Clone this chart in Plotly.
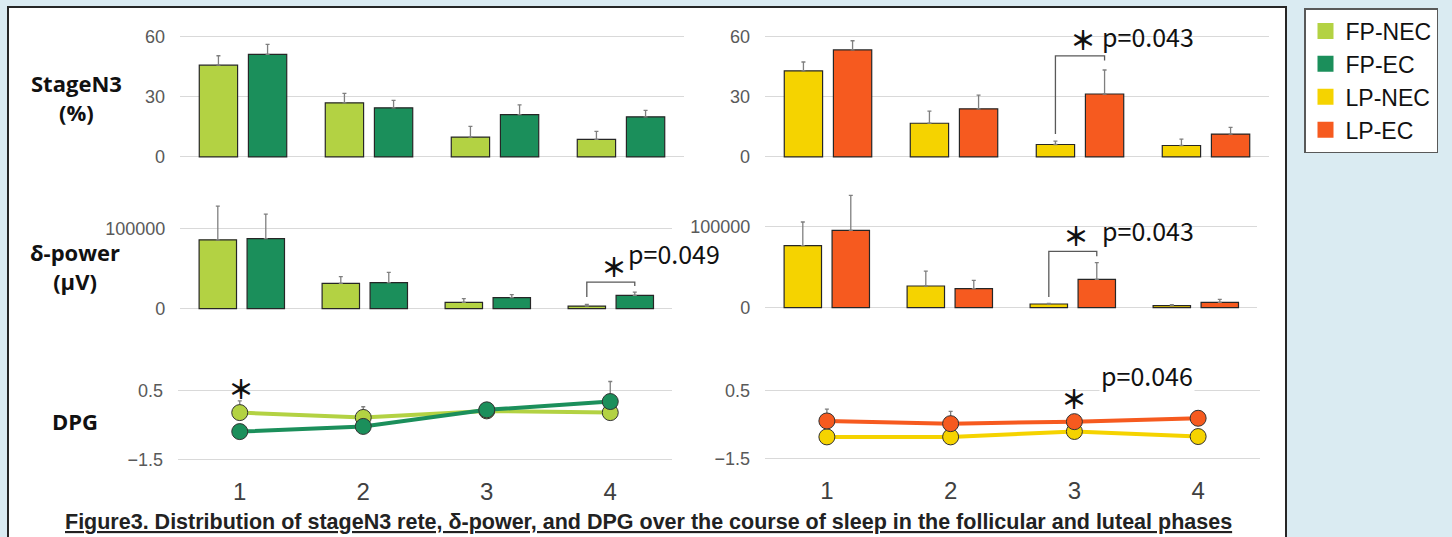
import plotly.graph_objects as go

# ---------------- data ----------------
categories = ["1", "2", "3", "4"]
series_names = ["FP-NEC", "FP-EC", "LP-NEC", "LP-EC"]

# Stage N3 (%)
n3_fp_nec = [45.8, 27.0, 9.9, 8.7]
n3_fp_nec_sd = [4.7, 4.7, 5.3, 4.0]
n3_fp_ec = [51.2, 24.5, 21.1, 20.0]
n3_fp_ec_sd = [5.0, 3.7, 4.9, 3.2]
n3_lp_nec = [43.0, 16.8, 6.2, 5.7]
n3_lp_nec_sd = [4.4, 6.1, 1.7, 3.2]
n3_lp_ec = [53.4, 24.0, 31.4, 11.4]
n3_lp_ec_sd = [4.6, 6.8, 12.0, 3.3]

# delta power (uV)
dp_fp_nec = [86000, 31700, 7900, 3300]
dp_fp_nec_sd = [42000, 8300, 4600, 2000]
dp_fp_ec = [87500, 32500, 13700, 16600]
dp_fp_ec_sd = [30500, 12900, 3800, 4200]
dp_lp_nec = [76300, 26600, 4500, 2500]
dp_lp_nec_sd = [29000, 18400, 800, 1200]
dp_lp_ec = [95100, 23300, 34800, 6600]
dp_lp_ec_sd = [43000, 10300, 20500, 3600]

# DPG
dpg_fp_nec = [-0.13, -0.27, -0.08, -0.13]
dpg_fp_nec_sd = [0.34, 0.31, 0.10, 0.10]
dpg_fp_ec = [-0.68, -0.53, -0.05, 0.19]
dpg_fp_ec_sd = [0.10, 0.10, 0.10, 0.58]
dpg_lp_nec = [-0.86, -0.86, -0.70, -0.85]
dpg_lp_nec_sd = [0.10, 0.10, 0.10, 0.10]
dpg_lp_ec = [-0.39, -0.47, -0.41, -0.31]
dpg_lp_ec_sd = [0.35, 0.36, 0.10, 0.10]

n3_ticks = [0, 30, 60]
dp_ticks = [0, 100000]
dpg_ticks = [-1.5, 0.5]

# ---------------- style ----------------
W, H = 1452, 537
SY = 0.982  # observed vertical rendering factor
COL = {"FP-NEC": "#b3d243", "FP-EC": "#1b8f5b", "LP-NEC": "#f5d300", "LP-EC": "#f65a1f"}
ERR = "#7f7f7f"
GRID = "#d9d9d9"
TXT = "#595959"
xpos = list(range(1, len(categories) + 1))


def fx(px):
    return px / W


def fy(py):
    return 1 - py / (H * SY)


fig = go.Figure()


def err(sd):
    return dict(type="data", array=sd, arrayminus=[0] * len(sd), symmetric=False,
                color=ERR, thickness=1.3, width=2)


def add_bar(name, vals, sd, ax):
    fig.add_trace(go.Bar(x=xpos, y=vals, name=name, marker=dict(color=COL[name], line=dict(color="#262626", width=1.2)),
                         error_y=err(sd), showlegend=False, xaxis="x" + ax, yaxis="y" + ax))


def add_line(name, vals, sd, ax):
    fig.add_trace(go.Scatter(x=xpos, y=vals, name=name, mode="lines+markers",
                             line=dict(color=COL[name], width=4),
                             marker=dict(color=COL[name], size=16, line=dict(color="#333333", width=1)),
                             error_y=err(sd), showlegend=False, xaxis="x" + ax, yaxis="y" + ax))


add_bar("FP-NEC", n3_fp_nec, n3_fp_nec_sd, "")
add_bar("FP-EC", n3_fp_ec, n3_fp_ec_sd, "")
add_bar("LP-NEC", n3_lp_nec, n3_lp_nec_sd, "2")
add_bar("LP-EC", n3_lp_ec, n3_lp_ec_sd, "2")
add_bar("FP-NEC", dp_fp_nec, dp_fp_nec_sd, "3")
add_bar("FP-EC", dp_fp_ec, dp_fp_ec_sd, "3")
add_bar("LP-NEC", dp_lp_nec, dp_lp_nec_sd, "4")
add_bar("LP-EC", dp_lp_ec, dp_lp_ec_sd, "4")
add_line("FP-NEC", dpg_fp_nec, dpg_fp_nec_sd, "5")
add_line("FP-EC", dpg_fp_ec, dpg_fp_ec_sd, "5")
add_line("LP-NEC", dpg_lp_nec, dpg_lp_nec_sd, "6")
add_line("LP-EC", dpg_lp_ec, dpg_lp_ec_sd, "6")

# legend entries
for nm in series_names:
    fig.add_trace(go.Scatter(x=[None], y=[None], mode="markers", name=nm,
                             marker=dict(symbol="square", size=20, color=COL[nm]),
                             showlegend=True, xaxis="x", yaxis="y"))

AX_FONT = dict(family="Liberation Sans, Arial", size=18, color=TXT)


def xax(d0, d1, anchor, labels=False):
    a = dict(domain=[fx(d0), fx(d1)], range=[0.5, 4.5], anchor=anchor, showgrid=False, zeroline=False,
             showline=False, tickvals=xpos, ticktext=categories, fixedrange=True)
    if labels:
        a.update(showticklabels=True, tickfont=dict(family="Liberation Sans, Arial", size=24, color="#404040"),
                 ticklabelstandoff=12)
    else:
        a.update(showticklabels=False)
    return a


def yax(top, bottom, rng, ticks, anchor, fmt=None):
    a = dict(domain=[fy(bottom), fy(top)], range=rng, anchor=anchor, showgrid=True, gridcolor=GRID, gridwidth=1,
             zeroline=False, showline=False, tickvals=ticks, tickfont=AX_FONT, ticklabelstandoff=14,
             fixedrange=True)
    if fmt:
        a["tickformat"] = fmt
    return a


fig.update_layout(
    xaxis=xax(180, 684, "y"), yaxis=yax(24.7, 158.7, [-1, 66], n3_ticks, "x"),
    xaxis2=xax(765, 1269, "y2"), yaxis2=yax(24.7, 158.7, [-1, 66], n3_ticks, "x2"),
    xaxis3=xax(180.3, 672.3, "y3"), yaxis3=yax(188.3, 309.9, [-2000, 150000], dp_ticks, "x3", "d"),
    xaxis4=xax(765.3, 1257.3, "y4"), yaxis4=yax(185.4, 308.9, [-2000, 150000], dp_ticks, "x4", "d"),
    xaxis5=xax(178, 672, "y5", True), yaxis5=yax(366.2, 462.8, [-1.6, 1.2], dpg_ticks, "x5"),
    xaxis6=xax(765, 1260, "y6", True), yaxis6=yax(366.6, 461.4, [-1.6, 1.2], dpg_ticks, "x6"),
)

# significance brackets
off = (1 - 0.22) / 4
brackets = [
    ("x2", "y2", 3, 11.4, 50.4, 48.1),
    ("x4", "y4", 3, 13100, 69300, 63100),
    ("x3", "y3", 4, 14500, 33250, 28250),
]
shapes = [dict(type="rect", xref="paper", yref="paper", x0=fx(8), x1=fx(1286), y0=-0.1, y1=fy(7),
               fillcolor="white", line=dict(color="#262626", width=2), layer="below")]
for xa, ya, c, yl, yh, yr in brackets:
    shapes.append(dict(type="path", xref=xa, yref=ya,
                       path=f"M {c - off},{yl} L {c - off},{yh} L {c + off},{yh} L {c + off},{yr}",
                       line=dict(color="#595959", width=1.3)))
fig.update_layout(shapes=shapes)

STAR = dict(family="Noto Sans CJK JP", size=26, color="#111111")
PF = dict(family="Noto Sans CJK JP", size=25, color="#111111")
ann = []
stars = [("x2", "y2", 3.02, 59), ("x4", "y4", 3.03, 90000), ("x3", "y3", 4.03, 54000),
         ("x5", "y5", 1.01, 0.6), ("x6", "y6", 3.0, 0.30)]
for xa, ya, x, y in stars:
    ann.append(dict(xref=xa, yref=ya, x=x, y=y, text="<b>＊</b>", showarrow=False, font=STAR,
                    xanchor="center", yanchor="middle"))
ptexts = [("x2", "y2", 3.16, 60.6, "p=0.043", None), ("x4", "y4", 3.22, 95000, "p=0.043", None),
          ("x3", "y3", 4.12, 69700, "p=0.049", None), ("x6", "y6", 3.2, 0.97, "p=0.046", "white")]
for xa, ya, x, y, t, bg in ptexts:
    a = dict(xref=xa, yref=ya, x=x, y=y, text=t, showarrow=False, font=PF, xanchor="left", yanchor="middle")
    if bg:
        a["bgcolor"] = bg
    ann.append(a)

ROWF = dict(family="Open Sans", size=22, color="#111111")
ann.append(dict(xref="paper", yref="paper", x=fx(76), y=fy(97), text="<b>StageN3<br>(%)</b>", showarrow=False,
                font=ROWF, xanchor="center", yanchor="middle"))
ann.append(dict(xref="paper", yref="paper", x=fx(75), y=fy(266), text="<b>δ-power<br>(μV)</b>", showarrow=False,
                font=ROWF, xanchor="center", yanchor="middle"))
ann.append(dict(xref="paper", yref="paper", x=fx(75), y=fy(420), text="<b>DPG</b>", showarrow=False,
                font=ROWF, xanchor="center", yanchor="middle"))
ann.append(dict(xref="paper", yref="paper", x=fx(648), y=fy(521),
                text="<b><u>Figure3. Distribution of stageN3 rete, δ-power, and DPG over the course of sleep in the follicular and luteal phases</u></b>",
                showarrow=False, font=dict(family="Liberation Sans, Arial", size=21.5, color="#222222"),
                xanchor="center", yanchor="middle"))
fig.update_layout(annotations=ann)

fig.update_layout(
    width=W, height=H, margin=dict(l=0, r=0, t=0, b=0), autosize=False,
    paper_bgcolor="#daebf2", plot_bgcolor="rgba(0,0,0,0)",
    barmode="group", bargap=0.22, bargroupgap=0.22,
    showlegend=True,
    legend=dict(x=fx(1304), y=fy(8), xanchor="left", yanchor="top", bgcolor="white",
                bordercolor="#595959", borderwidth=1.5,
                font=dict(family="Liberation Sans, Arial", size=23, color="#111111"),
                itemclick=False, itemdoubleclick=False, tracegroupgap=0),
)

fig.write_html(
    "out.html",
    config={"displayModeBar": False},
    post_script="document.body.style.margin='0';document.body.style.overflow='hidden';",
)
